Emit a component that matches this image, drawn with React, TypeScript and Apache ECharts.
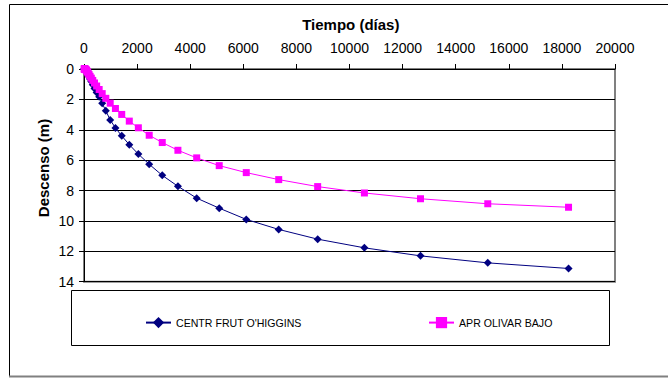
import React, { useEffect, useRef } from "react";
import * as echarts from "echarts";

const timeDays = [10, 12, 15, 18, 21, 26, 31, 37, 44, 53, 64, 77, 92, 110, 133, 159, 191, 229, 275, 330, 396, 476, 571, 685, 822, 987, 1184, 1421, 1706, 2047, 2456, 2947, 3537, 4244, 5093, 6112, 7334, 8801, 10561, 12674, 15208, 18250];
const centrFrut = [0, 0, 0, 0.01, 0.01, 0.01, 0.01, 0.02, 0.02, 0.03, 0.04, 0.07, 0.12, 0.19, 0.28, 0.39, 0.51, 0.66, 0.83, 1.04, 1.28, 1.55, 1.83, 2.26, 2.75, 3.35, 3.88, 4.4, 4.98, 5.6, 6.27, 7.0, 7.72, 8.5, 9.16, 9.9, 10.56, 11.2, 11.77, 12.3, 12.76, 13.13];
const aprOlivar = [0, 0, 0, 0, 0.01, 0.01, 0.01, 0.01, 0.02, 0.02, 0.03, 0.05, 0.09, 0.14, 0.2, 0.28, 0.37, 0.48, 0.6, 0.75, 0.92, 1.12, 1.35, 1.62, 1.93, 2.25, 2.6, 2.99, 3.43, 3.87, 4.36, 4.84, 5.35, 5.85, 6.36, 6.82, 7.28, 7.74, 8.16, 8.54, 8.87, 9.1];
const seriesNames = ["CENTR FRUT O'HIGGINS", "APR OLIVAR BAJO"];
const xTitle = "Tiempo (días)";
const yTitle = "Descenso (m)";

export default function App() {
  const ref = useRef<HTMLDivElement>(null);
  useEffect(() => {
    if (!ref.current) return;
    const chart = echarts.init(ref.current, null, { renderer: "svg" });
    const font = "Liberation Sans, Arial, sans-serif";
    chart.setOption({
      animation: false,
      backgroundColor: "#ffffff",
      textStyle: { fontFamily: font },
      grid: {
        left: 84,
        top: 69,
        width: 531,
        height: 212.7,
        show: true,
        borderColor: "#808080",
        borderWidth: 2,
      },
      xAxis: {
        type: "value",
        position: "top",
        min: 0,
        max: 20000,
        interval: 2000,
        axisLine: { show: true, lineStyle: { color: "#000", width: 1 } },
        axisTick: { show: true, inside: false, length: 5, lineStyle: { color: "#000" } },
        axisLabel: {
          color: "#000",
          fontSize: 14,
          fontFamily: font,
          margin: 14,
          formatter: (v: number) => String(v),
        },
        splitLine: { show: false },
      },
      yAxis: {
        type: "value",
        inverse: true,
        min: 0,
        max: 14,
        interval: 2,
        axisLine: { show: true, lineStyle: { color: "#000", width: 1 } },
        axisTick: { show: true, inside: false, length: 5, lineStyle: { color: "#000" } },
        axisLabel: { color: "#000", fontSize: 14, fontFamily: font, margin: 10 },
        splitLine: { show: true, lineStyle: { color: "#000", width: 1 } },
      },
      legend: [
        {
          data: [seriesNames[0]],
          left: 140,
          top: 312,
          itemWidth: 25,
          itemHeight: 14,
          textStyle: { color: "#000", fontSize: 10.6, fontFamily: font },
        },
        {
          data: [seriesNames[1]],
          left: 423,
          top: 312,
          itemWidth: 25,
          itemHeight: 14,
          textStyle: { color: "#000", fontSize: 10.6, fontFamily: font },
        },
      ],
      graphic: [
        {
          type: "rect",
          shape: { x: 9.5, y: 4.5, width: 700, height: 372 },
          style: { fill: "none", stroke: "#000", lineWidth: 1 },
          silent: true,
        },
        {
          type: "line",
          shape: { x1: 9, y1: 376.5, x2: 668, y2: 376.5 },
          style: { stroke: "#808080", lineWidth: 2 },
          silent: true,
        },
        {
          type: "rect",
          shape: { x: 71.5, y: 290.5, width: 538, height: 55 },
          style: { fill: "none", stroke: "#000", lineWidth: 1 },
          silent: true,
        },
        {
          type: "text",
          x: 350.8,
          y: 24,
          style: {
            text: xTitle,
            fontSize: 15,
            fontWeight: "bold",
            fontFamily: font,
            fill: "#000",
            textAlign: "center",
            textVerticalAlign: "middle",
          },
        },
        {
          type: "text",
          x: 43,
          y: 168,
          rotation: Math.PI / 2,
          style: {
            text: yTitle,
            fontSize: 15,
            fontWeight: "bold",
            fontFamily: font,
            fill: "#000",
            textAlign: "center",
            textVerticalAlign: "middle",
          },
        },
      ],
      series: [
        {
          name: seriesNames[0],
          type: "line",
          data: timeDays.map((t, i) => [t, centrFrut[i]]),
          symbol: "diamond",
          symbolSize: 8,
          lineStyle: { color: "#000080", width: 1 },
          itemStyle: { color: "#000080" },
          z: 3,
        },
        {
          name: seriesNames[1],
          type: "line",
          data: timeDays.map((t, i) => [t, aprOlivar[i]]),
          symbol: "rect",
          symbolSize: 7,
          lineStyle: { color: "#FF00FF", width: 1 },
          itemStyle: { color: "#FF00FF" },
          z: 4,
        },
      ],
    });
    return () => chart.dispose();
  }, []);
  return (
    <div
      ref={ref}
      style={{ position: "absolute", left: 0, top: 0, width: 668, height: 378 }}
    />
  );
}
